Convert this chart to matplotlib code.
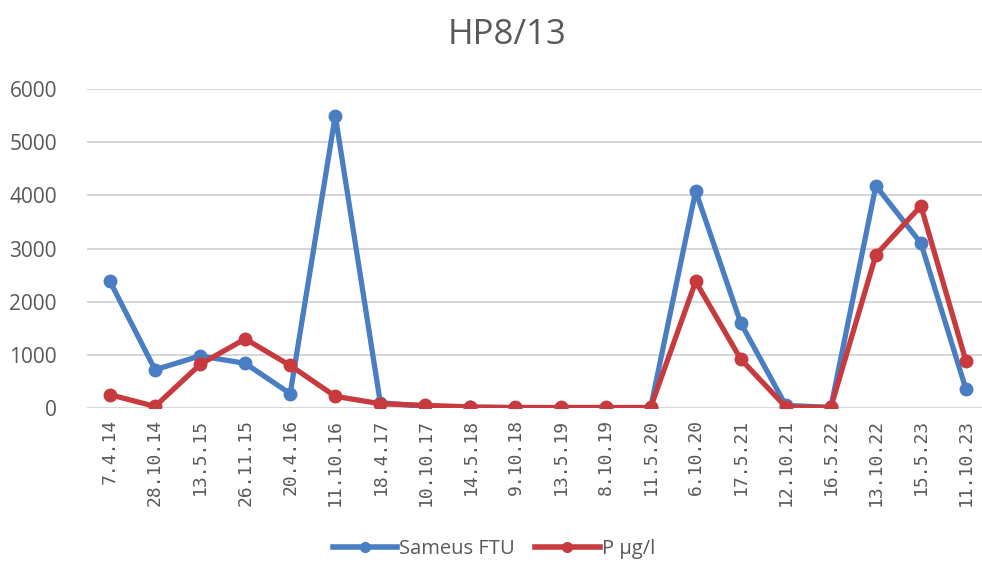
import matplotlib
matplotlib.use("Agg")
import matplotlib.pyplot as plt
from matplotlib.lines import Line2D

dates = ["7.4.14", "28.10.14", "13.5.15", "26.11.15", "20.4.16", "11.10.16", "18.4.17",
         "10.10.17", "14.5.18", "9.10.18", "13.5.19", "8.10.19", "11.5.20", "6.10.20",
         "17.5.21", "12.10.21", "16.5.22", "13.10.22", "15.5.23", "11.10.23"]
sameus = [2380, 720, 980, 840, 270, 5500, 100, 30, 10, 5, 5, 5, 5, 4080, 1600, 50, 10, 4180, 3100, 350]
p_ugl = [250, 30, 820, 1300, 800, 220, 80, 50, 20, 10, 10, 10, 10, 2380, 920, 20, 10, 2880, 3800, 880]
yticks = [0, 1000, 2000, 3000, 4000, 5000, 6000]

plt.rcParams['font.family'] = ['Open Sans', 'DejaVu Sans']
BLUE = '#4A7EC2'
RED = '#C73A3E'

fig = plt.figure(figsize=(9.82, 5.72), dpi=100)
ax = fig.add_axes([0.0891, 0.2867, 0.9109, 0.5577])
x = list(range(len(dates)))
ax.plot(x, sameus, color=BLUE, lw=3.8, marker='o', ms=9, zorder=3)
ax.plot(x, p_ugl, color=RED, lw=3.8, marker='o', ms=9, zorder=4)

ax.set_ylim(0, 6000)
ax.set_yticks(yticks)
ax.set_xlim(-0.5, 19.356)
ax.set_xticks(x)
ax.set_xticklabels(dates, rotation=90, fontsize=13, color='#595959',
                   family=['DejaVu Sans Mono'])
ax.tick_params(axis='y', labelsize=15, labelcolor='#595959', length=0, pad=22)
ax.tick_params(axis='x', length=0, pad=8)
ax.grid(axis='y', color='#D0D0D0', lw=1.2)
ax.set_axisbelow(True)
for s in ax.spines.values():
    s.set_visible(False)

fig.text(0.516, 0.938, "HP8/13", ha='center', va='center', fontsize=25, color='#595959')
handles = [Line2D([], [], color=BLUE, lw=4, marker='o', ms=7),
           Line2D([], [], color=RED, lw=4, marker='o', ms=7)]
fig.legend(handles, ['Sameus FTU', 'P µg/l'], loc='center', bbox_to_anchor=(0.503, 0.04),
           ncol=2, frameon=False, fontsize=14.5, handlelength=3.2, columnspacing=1.0,
           handletextpad=0.1, labelcolor='#595959')
fig.savefig("out.png", dpi=100, facecolor='white')
